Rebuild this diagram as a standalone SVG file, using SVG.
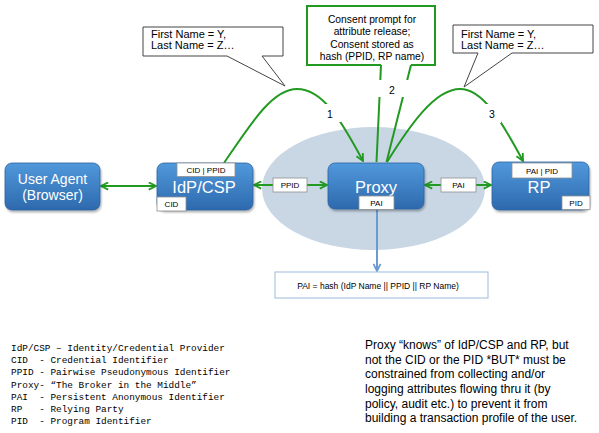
<svg xmlns="http://www.w3.org/2000/svg" width="599" height="433" viewBox="0 0 599 433">
<style>
text{font-family:"Liberation Sans",Arial,sans-serif;fill:#000}
.node rect.body{fill:url(#blue);stroke:#2c62a0;stroke-width:0.8;filter:url(#sh)}
.ntxt{fill:#fff;text-anchor:middle}
.tag{fill:#fff;stroke:#8f8f8f;stroke-width:0.8}
.tagt{font-size:8px;text-anchor:middle}
.g{fill:none;stroke:#229a22;stroke-width:2}
.call{fill:#fff;stroke:#444;stroke-width:1}
.num{font-size:10.5px;text-anchor:middle}
.mono{font-family:"Liberation Mono","DejaVu Sans Mono",monospace;font-size:9.4px;white-space:pre}
.para{font-size:12px}
</style>
<defs>
<linearGradient id="blue" x1="0" y1="0" x2="0" y2="1">
<stop offset="0" stop-color="#5199dc"/>
<stop offset="1" stop-color="#2d69ad"/>
</linearGradient>
<filter id="sh" x="-10%" y="-10%" width="130%" height="140%">
<feDropShadow dx="1" dy="2" stdDeviation="1.2" flood-color="#000" flood-opacity="0.3"/>
</filter>
<marker id="ga" viewBox="0 0 10 10" refX="9" refY="5" markerWidth="9" markerHeight="9" orient="auto-start-reverse" markerUnits="userSpaceOnUse">
<path d="M1,1 L9,5 L1,9" fill="none" stroke="#229a22" stroke-width="2"/>
</marker>
<marker id="ba" viewBox="0 0 10 10" refX="9" refY="5" markerWidth="9" markerHeight="9" orient="auto" markerUnits="userSpaceOnUse">
<path d="M1,1 L9,5 L1,9" fill="none" stroke="#6b9bd1" stroke-width="2"/>
</marker>
</defs>
<rect width="599" height="433" fill="#fff"/>

<ellipse id="proxy-zone" cx="373.5" cy="188.5" rx="111.5" ry="61.5" fill="#c9d7e5"/>

<g id="callout-1">
<path class="call" d="M143,27 H283 V56 H262 L285,86 L227,56 H143 Z"/>
<text font-size="11" x="151" y="37.5">First Name = Y,</text>
<text font-size="11" x="151" y="48.5">Last Name = Z…</text>
</g>
<g id="callout-3">
<path class="call" d="M453,25 H593 V53 H512 L464,87 L478,53 H453 Z"/>
<text font-size="11" x="461" y="37.5">First Name = Y,</text>
<text font-size="11" x="461" y="48.5">Last Name = Z…</text>
</g>
<g id="callout-2">
<path d="M411,65 H435 V6 H307 V65 H381" fill="#fff" stroke="#229a22" stroke-width="2"/>
<text font-size="10.3" text-anchor="middle" x="372" y="23.3">Consent prompt for</text>
<text font-size="10.3" text-anchor="middle" x="372" y="35">attribute release;</text>
<text font-size="10.3" text-anchor="middle" x="372" y="47.5">Consent stored as</text>
<text font-size="10.3" text-anchor="middle" x="372" y="59.5">hash (PPID, RP name)</text>
</g>

<g id="connectors">
<line class="g" x1="101" y1="186" x2="156" y2="186" marker-start="url(#ga)" marker-end="url(#ga)"/>
<line class="g" x1="254" y1="185" x2="327" y2="185" marker-start="url(#ga)" marker-end="url(#ga)"/>
<line class="g" x1="425" y1="185" x2="491" y2="185" marker-start="url(#ga)" marker-end="url(#ga)"/>
<path class="g" d="M224,163 C250,125 272,89 297,89 C322,89 340,118 363,161" marker-end="url(#ga)"/>
<path class="g" d="M387,162 C410,125 435,89 460,89 C482,89 500,118 523,161" marker-end="url(#ga)"/>
<line class="g" x1="381" y1="65" x2="376.5" y2="162"/>
<line class="g" x1="411" y1="65" x2="386.5" y2="162"/>
<line x1="377" y1="209" x2="377" y2="271" stroke="#6b9bd1" stroke-width="2" marker-end="url(#ba)"/>
<rect x="323" y="104" width="18" height="18" fill="#fff"/>
<rect x="484" y="104" width="17" height="19" fill="#fff"/>
<rect x="376" y="80" width="33" height="17" fill="#fff"/>
<text class="num" x="330" y="117.5">1</text>
<text class="num" x="392" y="94">2</text>
<text class="num" x="492" y="118">3</text>
<rect class="tag" x="273" y="178" width="34" height="14"/>
<text class="tagt" x="290" y="188">PPID</text>
<rect class="tag" x="441" y="178" width="35" height="14"/>
<text class="tagt" x="458.5" y="188">PAI</text>
</g>

<g id="user-agent" class="node">
<rect class="body" x="5" y="163" width="95" height="47" rx="7"/>
<text class="ntxt" font-size="14" x="52.5" y="184">User Agent</text>
<text class="ntxt" font-size="14" x="52.5" y="200">(Browser)</text>
</g>
<g id="idp-csp" class="node">
<rect class="body" x="157" y="163" width="96" height="47" rx="7"/>
<text class="ntxt" font-size="16.5" x="204" y="193">IdP/CSP</text>
<rect class="tag" x="177" y="163" width="58" height="13.5"/>
<text class="tagt" x="206" y="172.8">CID | PPID</text>
<rect class="tag" x="157" y="197" width="29" height="14"/>
<text class="tagt" x="171.5" y="207">CID</text>
</g>
<g id="proxy" class="node">
<rect class="body" x="328" y="163" width="96" height="46" rx="7"/>
<text class="ntxt" font-size="16.5" x="376" y="193">Proxy</text>
<rect class="tag" x="359" y="196" width="35" height="13.5"/>
<text class="tagt" x="376.5" y="205.8">PAI</text>
</g>
<g id="rp" class="node">
<rect class="body" x="492" y="162" width="97" height="48" rx="7"/>
<text class="ntxt" font-size="16.5" x="539" y="193">RP</text>
<rect class="tag" x="512" y="163" width="60" height="15"/>
<text class="tagt" x="542" y="173.5">PAI | PID</text>
<rect class="tag" x="562" y="196" width="28" height="13.5"/>
<text class="tagt" x="576" y="205.8">PID</text>
</g>
<g id="formula">
<rect x="275" y="272" width="213" height="26" fill="#fff" stroke="#9dbbdc" stroke-width="1"/>
<text font-size="8.5" text-anchor="middle" x="378" y="289">PAI = hash (IdP Name || PPID || RP Name)</text>
</g>

<g id="legend">
<text class="mono" x="11" y="351" xml:space="preserve">IdP/CSP – Identity/Credential Provider</text>
<text class="mono" x="11" y="363.2" xml:space="preserve">CID  - Credential Identifier</text>
<text class="mono" x="11" y="375.4" xml:space="preserve">PPID - Pairwise Pseudonymous Identifier</text>
<text class="mono" x="11" y="387.6" xml:space="preserve">Proxy- “The Broker in the Middle”</text>
<text class="mono" x="11" y="399.8" xml:space="preserve">PAI  - Persistent Anonymous Identifier</text>
<text class="mono" x="11" y="412" xml:space="preserve">RP   - Relying Party</text>
<text class="mono" x="11" y="424.2" xml:space="preserve">PID  - Program Identifier</text>
</g>
<g id="note">
<text class="para" x="365" y="349">Proxy “knows” of IdP/CSP and RP, but</text>
<text class="para" x="365" y="363.7">not the CID or the PID *BUT* must be</text>
<text class="para" x="365" y="378.3">constrained from collecting and/or</text>
<text class="para" x="365" y="393">logging attributes flowing thru it (by</text>
<text class="para" x="365" y="407.7">policy, audit etc.) to prevent it from</text>
<text class="para" x="365" y="422.3">building a transaction profile of the user.</text>
</g>
</svg>
